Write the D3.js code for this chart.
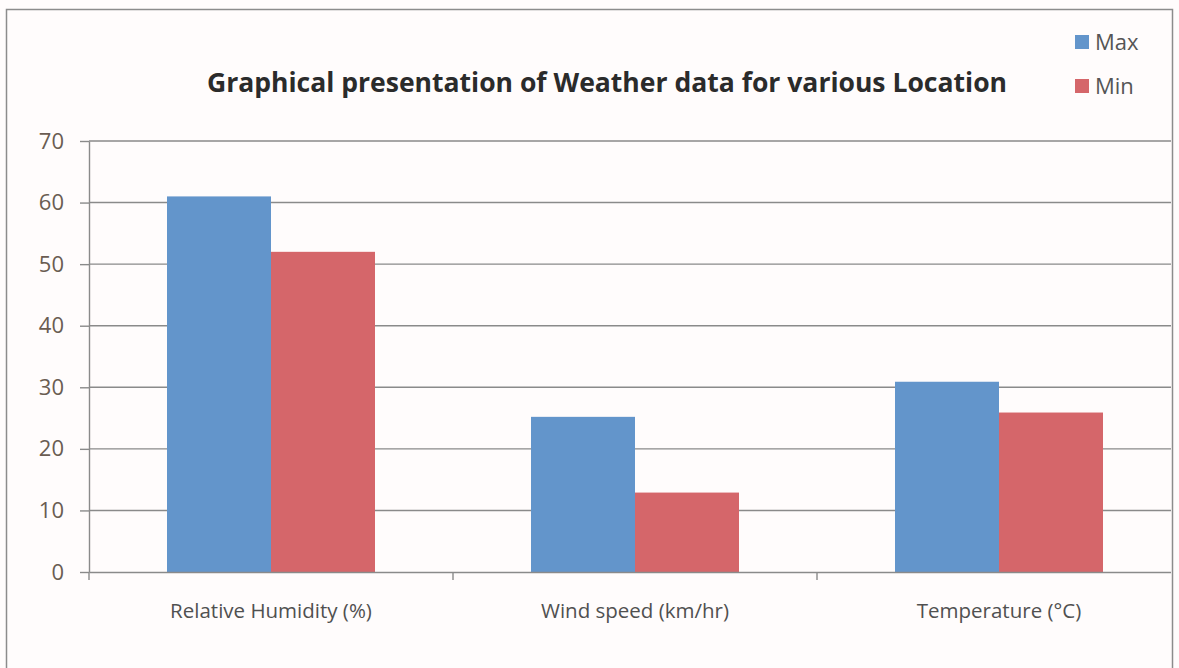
<!DOCTYPE html>
<html>
<head>
  <meta charset="utf-8">
  <script src="https://d3js.org/d3.v7.min.js"></script>
  <style>
    body { margin: 0; background: #fffcfc; }
    text { font-family: "Open Sans", "DejaVu Sans", sans-serif; }
  </style>
</head>
<body>
<div id="vis"></div>
<script>
  // data
  var categories = ['Relative Humidity (%)', 'Wind speed (km/hr)', 'Temperature (°C)'];
  var seriesNames = ['Max', 'Min'];
  var maxValues = [61, 25.2, 30.9];
  var minValues = [52, 12.9, 25.9];
  var yTicks = [0, 10, 20, 30, 40, 50, 60, 70];

  var colors = { Max: '#6395cb', Min: '#d5666a' };

  var width = 1179, height = 668;
  var margin = { left: 89, right: -2, top: 141, bottom: 96 };

  var svg = d3.select('#vis')
    .append('svg')
    .attr('width', width)
    .attr('height', height);

  // chart border (scan: right side ends near 1172)
  svg.append('rect')
    .attr('x', 6.5).attr('y', 9.5)
    .attr('width', 1166).attr('height', 680)
    .attr('fill', '#fffcfc')
    .attr('stroke', '#8c8c8c')
    .attr('stroke-width', 1.5);

  var x0 = d3.scaleBand()
    .domain(categories)
    .range([margin.left, width - margin.right])
    .paddingInner(0)
    .paddingOuter(0);

  var x1 = d3.scaleBand()
    .domain(seriesNames)
    .range([0, x0.bandwidth()])
    .paddingInner(0)
    .paddingOuter(0.75);

  var y = d3.scaleLinear()
    .domain([0, 70])
    .range([height - margin.bottom, margin.top]);

  svg.append('clipPath').attr('id', 'clip')
    .append('rect')
    .attr('x', 0).attr('y', 0)
    .attr('width', 1171).attr('height', height);

  var plot = svg.append('g').attr('clip-path', 'url(#clip)');

  // gridlines
  plot.append('g')
    .selectAll('line')
    .data(yTicks.filter(d => d > 0))
    .enter()
    .append('line')
    .attr('x1', margin.left)
    .attr('x2', width - margin.right)
    .attr('y1', d => y(d))
    .attr('y2', d => y(d))
    .attr('stroke', '#8a8a8a')
    .attr('stroke-width', 1.4);

  // bars
  var rows = categories.map((c, i) => ({ cat: c, Max: maxValues[i], Min: minValues[i] }));

  plot.append('g')
    .selectAll('g')
    .data(rows)
    .enter()
    .append('g')
    .attr('transform', d => 'translate(' + x0(d.cat) + ',0)')
    .selectAll('rect')
    .data(d => seriesNames.map(s => ({ key: s, value: d[s] })))
    .enter()
    .append('rect')
    .attr('x', d => x1(d.key))
    .attr('width', x1.bandwidth())
    .attr('y', d => y(d.value))
    .attr('height', d => y(0) - y(d.value))
    .attr('fill', d => colors[d.key]);

  // y axis
  var yAxis = svg.append('g')
    .attr('transform', 'translate(' + margin.left + ',0)')
    .call(d3.axisLeft(y).tickValues(yTicks).tickSize(9).tickPadding(16).tickSizeOuter(0));
  yAxis.select('.domain').attr('stroke', '#8a8a8a').attr('stroke-width', 1.4);
  yAxis.selectAll('.tick line').attr('stroke', '#8a8a8a').attr('stroke-width', 1.4);
  yAxis.selectAll('.tick text')
    .attr('fill', '#6a5c52')
    .style('font-size', '22px');

  // x axis
  var xAxis = plot.append('g')
    .attr('transform', 'translate(0,' + y(0) + ')')
    .call(d3.axisBottom(x0).tickSize(0).tickPadding(31).tickSizeOuter(0));
  xAxis.select('.domain').attr('stroke', '#8a8a8a').attr('stroke-width', 1.4);
  xAxis.selectAll('.tick text')
    .attr('fill', '#505050')
    .style('font-size', '20.5px');

  // category separator ticks
  plot.append('g')
    .selectAll('line')
    .data(categories)
    .enter()
    .append('line')
    .attr('x1', d => x0(d))
    .attr('x2', d => x0(d))
    .attr('y1', y(0))
    .attr('y2', y(0) + 8)
    .attr('stroke', '#8a8a8a')
    .attr('stroke-width', 1.4);

  // title
  svg.append('text')
    .attr('x', 607)
    .attr('y', 92)
    .attr('text-anchor', 'middle')
    .attr('fill', '#2b2b2b')
    .style('font-size', '26px')
    .style('font-weight', 'bold')
    .attr('textLength', 800)
    .attr('lengthAdjust', 'spacingAndGlyphs')
    .text('Graphical presentation of Weather data for various Location');

  // legend
  var legend = svg.append('g')
    .selectAll('g')
    .data(seriesNames)
    .enter()
    .append('g')
    .attr('transform', (d, i) => 'translate(1075,' + (35 + i * 44) + ')');

  legend.append('rect')
    .attr('width', 14)
    .attr('height', 14)
    .attr('fill', d => colors[d]);

  legend.append('text')
    .attr('x', 20)
    .attr('y', 7)
    .attr('dy', '0.35em')
    .attr('fill', '#555')
    .style('font-size', '22px')
    .text(d => d);
</script>
</body>
</html>
